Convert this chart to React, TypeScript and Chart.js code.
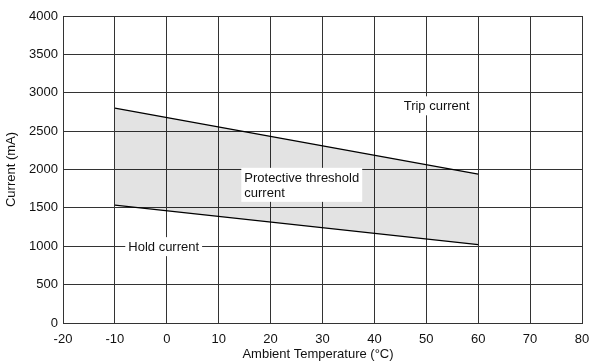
import React, { useEffect, useRef } from "react";
import { Chart, registerables } from "chart.js";

Chart.register(...registerables);

const temperatures = [-10, 60];
const tripCurrent = [2800, 1940];
const holdCurrent = [1535, 1020];
const xTicks = [-20, -10, 0, 10, 20, 30, 40, 50, 60, 70, 80];
const yTicks = [0, 500, 1000, 1500, 2000, 2500, 3000, 3500, 4000];

type Note = { lines: string[]; x: number; y: number };
const notes: Note[] = [
  { lines: ["Trip current"], x: 52.0, y: 2830 },
  { lines: ["Protective threshold", "current"], x: 26.0, y: 1800 },
  { lines: ["Hold current"], x: -0.6, y: 995 },
];

const FONT = "Liberation Sans, Arial, Helvetica, sans-serif";

const annotationPlugin = {
  id: "notes",
  afterDatasetsDraw(chart: any) {
    const { ctx, scales, chartArea } = chart;
    const xs = scales.x;
    const ys = scales.y;
    ctx.save();
    ctx.font = `13px ${FONT}`;
    ctx.textBaseline = "middle";
    ctx.textAlign = "left";
    const lh = 15;
    for (const n of notes) {
      const cx = xs.getPixelForValue(n.x);
      const cy = ys.getPixelForValue(n.y);
      const w = Math.max(...n.lines.map((l) => ctx.measureText(l).width));
      const h = n.lines.length * lh;
      ctx.fillStyle = "#ffffff";
      ctx.fillRect(cx - w / 2 - 3, cy - h / 2 - 2, w + 6, h + 4);
      ctx.fillStyle = "#111111";
      n.lines.forEach((l, i) => {
        ctx.fillText(l, cx - w / 2, cy - h / 2 + lh / 2 + i * lh + 1);
      });
    }
    ctx.fillStyle = "#111111";
    ctx.textAlign = "center";
    ctx.fillText("Ambient Temperature (\u00B0C)", 318, 354);
    ctx.translate(11, (chartArea.top + chartArea.bottom) / 2);
    ctx.rotate(-Math.PI / 2);
    ctx.fillText("Current (mA)", 0, 0);
    ctx.restore();
  },
};

export default function App() {
  const ref = useRef<HTMLCanvasElement>(null);
  useEffect(() => {
    document.body.style.margin = "0";
    const chart = new Chart(ref.current!, {
      type: "line",
      data: {
        labels: temperatures,
        datasets: [
          {
            label: "Hold current",
            data: temperatures.map((t, i) => ({ x: t, y: holdCurrent[i] })),
            borderColor: "#000000",
            borderWidth: 1.3,
            pointRadius: 0,
            fill: false,
          },
          {
            label: "Trip current",
            data: temperatures.map((t, i) => ({ x: t, y: tripCurrent[i] })),
            borderColor: "#000000",
            borderWidth: 1.3,
            pointRadius: 0,
            fill: "-1",
            backgroundColor: "rgba(0,0,0,0.11)",
          },
        ],
      },
      options: {
        animation: false,
        responsive: false,
        maintainAspectRatio: false,
        layout: { padding: { left: 0, right: 7, top: 16, bottom: 0 } },
        plugins: {
          legend: { display: false },
          tooltip: { enabled: false },
          filler: { propagate: false },
        },
        scales: {
          x: {
            type: "linear",
            min: -20,
            max: 80,
            afterBuildTicks: (s: any) => {
              s.ticks = xTicks.map((v) => ({ value: v }));
            },
            afterFit: (s: any) => {
              s.height = 39;
              s.paddingRight = 0;
              s.paddingLeft = 0;
            },
            grid: { color: "#333333", lineWidth: 1, drawTicks: false },
            border: { color: "#333333", width: 1 },
            ticks: {
              padding: 9,
              color: "#111111",
              font: { family: FONT, size: 13 },
              maxRotation: 0,
              callback: (v: any) => String(v),
            },
          },
          y: {
            type: "linear",
            min: 0,
            max: 4000,
            afterBuildTicks: (s: any) => {
              s.ticks = yTicks.map((v) => ({ value: v }));
            },
            afterFit: (s: any) => {
              s.width = 63;
              s.paddingTop = 0;
              s.paddingBottom = 0;
            },
            grid: { color: "#333333", lineWidth: 1, drawTicks: false },
            border: { color: "#333333", width: 1 },
            ticks: {
              padding: 5,
              color: "#111111",
              font: { family: FONT, size: 13 },
              callback: (v: any) => String(v),
            },
          },
        },
      },
      plugins: [annotationPlugin],
    });
    return () => chart.destroy();
  }, []);
  return (
    <div style={{ width: 589, height: 362, background: "#fff" }}>
      <canvas ref={ref} width={589} height={362} />
    </div>
  );
}
